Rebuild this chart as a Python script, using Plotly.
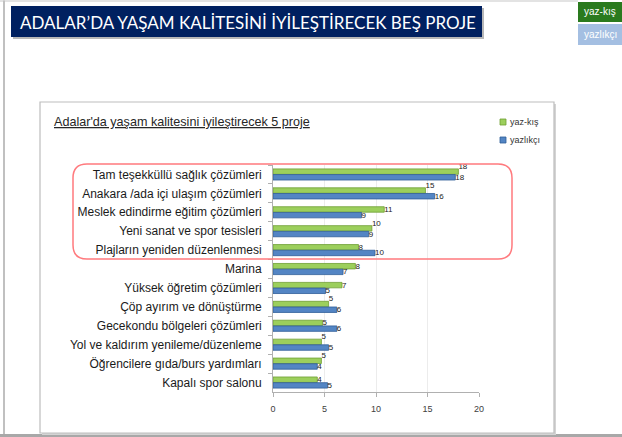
import plotly.graph_objects as go

# Survey results: five top projects for quality of life in Adalar
projects = [
    "Tam teşekküllü sağlık çözümleri",
    "Anakara /ada içi ulaşım çözümleri",
    "Meslek edindirme eğitim çözümleri",
    "Yeni sanat ve spor tesisleri",
    "Plajların yeniden düzenlenmesi",
    "Marina",
    "Yüksek öğretim çözümleri",
    "Çöp ayırım ve dönüştürme",
    "Gecekondu bölgeleri çözümleri",
    "Yol ve kaldırım yenileme/düzenleme",
    "Öğrencilere gıda/burs yardımları",
    "Kapalı spor salonu",
]
yaz_kis = [18.0, 14.8, 10.8, 9.6, 8.3, 8.0, 6.7, 5.4, 4.8, 4.7, 4.7, 4.3]
yazlikci = [17.7, 15.7, 8.6, 9.3, 9.9, 6.8, 5.1, 6.2, 6.2, 5.4, 4.3, 5.3]
x_ticks = [0, 5, 10, 15, 20]

W, H = 622, 437
ML, MR, MT, MB = 273, 143, 165, 45
PW, PH = W - ML - MR, H - MT - MB


def px(x):
    return (x - ML) / PW


def py(y):
    return 1 - (y - MT) / PH


def rect(x0, y0, x1, y1, **kw):
    return dict(type="rect", xref="paper", yref="paper",
                x0=px(x0), x1=px(x1), y0=py(y1), y1=py(y0), **kw)


def rounded_path(x0, y0, x1, y1, r):
    X0, X1 = px(x0), px(x1)
    Y0, Y1 = py(y0), py(y1)
    rx, ry = r / PW, r / PH
    return (f"M {X0 + rx} {Y0} L {X1 - rx} {Y0} Q {X1} {Y0} {X1} {Y0 - ry} "
            f"L {X1} {Y1 + ry} Q {X1} {Y1} {X1 - rx} {Y1} "
            f"L {X0 + rx} {Y1} Q {X0} {Y1} {X0} {Y1 + ry} "
            f"L {X0} {Y0 - ry} Q {X0} {Y0} {X0 + rx} {Y0} Z")


# when both bars end close together, lift the upper label half a line
green_text = [f"{a:.0f}<br> " if abs(a - b) < 1 else f"{a:.0f}"
              for a, b in zip(yaz_kis, yazlikci)]
blue_text = [f"{b:.0f}" for b in yazlikci]

GREEN, GREEN_EDGE = "#9ccf5c", "#6f9e34"
BLUE, BLUE_EDGE = "#5385c4", "#2f5d98"
FONT = "Liberation Sans"

fig = go.Figure()
for name, vals, labels, col, edge in [("yaz-kış", yaz_kis, green_text, GREEN, GREEN_EDGE),
                                      ("yazlıkçı", yazlikci, blue_text, BLUE, BLUE_EDGE)]:
    fig.add_trace(go.Bar(
        y=projects, x=vals, orientation="h", name=name,
        marker=dict(color=col, line=dict(color=edge, width=0.8)),
        text=labels, texttemplate="%{text}", textposition="outside",
        constraintext="none",
        textfont=dict(size=8, color="#222222", family=FONT),
        cliponaxis=False, showlegend=False,
    ))

shapes = [
    # slide frame
    rect(0, 0.5, 578, 1.5, fillcolor="#c8c8c8", line=dict(width=0), layer="below"),
    rect(3, 0.5, 5, 437, fillcolor="#c0c0c0", line=dict(width=0), layer="below"),
    rect(0, 434, 622, 437, fillcolor="#a8a8a8", line=dict(width=0), layer="below"),
    # title banner with shadow
    rect(13, 8, 484, 39, fillcolor="#b8b8b8", line=dict(width=0), layer="below"),
    rect(11, 6, 482, 37, fillcolor="#002060", line=dict(width=0), layer="below"),
    # series buttons
    rect(578, 2, 622, 22, fillcolor="#2a7a1e", line=dict(width=0), layer="below"),
    rect(578, 24, 622, 45, fillcolor="#a4bfe2", line=dict(width=0), layer="below"),
    # chart frame with shadow
    rect(42, 104, 556, 435, fillcolor="#d4d4d4", line=dict(width=0), layer="below"),
    rect(40, 102, 554, 433, fillcolor="white", line=dict(color="#bdbdbd", width=1.2), layer="below"),
    # legend swatches
    rect(500, 119, 506, 125, fillcolor=GREEN, line=dict(color=GREEN_EDGE, width=0.8)),
    rect(500, 137, 506, 143, fillcolor=BLUE, line=dict(color=BLUE_EDGE, width=0.8)),
    # highlight around the top five projects
    dict(type="path", xref="paper", yref="paper", path=rounded_path(73, 164, 512, 259, 14),
         line=dict(color="#ff7a7e", width=1.5)),
]

annotations = [
    dict(x=px(18), y=py(22), xref="paper", yref="paper", xanchor="left", yanchor="middle",
         text="ADALAR’DA YAŞAM KALİTESİNİ İYİLEŞTİRECEK BEŞ PROJE", showarrow=False,
         font=dict(family="Lato", size=17, color="white")),
    dict(x=px(600), y=py(12), xref="paper", yref="paper", xanchor="center", yanchor="middle",
         text="yaz-kış", showarrow=False, font=dict(family=FONT, size=10, color="white")),
    dict(x=px(600), y=py(34.5), xref="paper", yref="paper", xanchor="center", yanchor="middle",
         text="yazlıkçı", showarrow=False, font=dict(family=FONT, size=10, color="white")),
    dict(x=px(52), y=py(122), xref="paper", yref="paper", xanchor="left", yanchor="middle",
         text="<u>Adalar'da yaşam kalitesini iyileştirecek 5 proje</u>", showarrow=False,
         font=dict(family=FONT, size=12.6, color="#262626")),
    dict(x=px(508), y=py(122), xref="paper", yref="paper", xanchor="left", yanchor="middle",
         text="yaz-kış", showarrow=False, font=dict(family=FONT, size=9, color="#333333")),
    dict(x=px(508), y=py(140), xref="paper", yref="paper", xanchor="left", yanchor="middle",
         text="yazlıkçı", showarrow=False, font=dict(family=FONT, size=9, color="#333333")),
]

fig.update_layout(
    width=W, height=H,
    margin=dict(l=ML, r=MR, t=MT, b=MB, pad=0),
    paper_bgcolor="white", plot_bgcolor="white",
    barmode="group", bargap=0.4, bargroupgap=0.04,
    shapes=shapes, annotations=annotations, showlegend=False,
    xaxis=dict(range=[0, 20], tickvals=x_ticks, showgrid=True, gridcolor="#ececec",
               gridwidth=1, zeroline=False, showline=True, linecolor="#b0b0b0",
               ticks="outside", ticklen=4, tickcolor="#b0b0b0",
               tickfont=dict(family=FONT, size=9, color="#404040"),
               ticklabelstandoff=4, fixedrange=True),
    yaxis=dict(autorange="reversed", categoryorder="array", categoryarray=projects,
               showline=True, linecolor="#b0b0b0", ticks="outside", ticklen=4,
               tickcolor="#b0b0b0", tickson="boundaries", showgrid=False,
               tickfont=dict(family=FONT, size=12, color="#1a1a1a"),
               ticklabelstandoff=8, fixedrange=True),
)

fig.write_html("out.html")
